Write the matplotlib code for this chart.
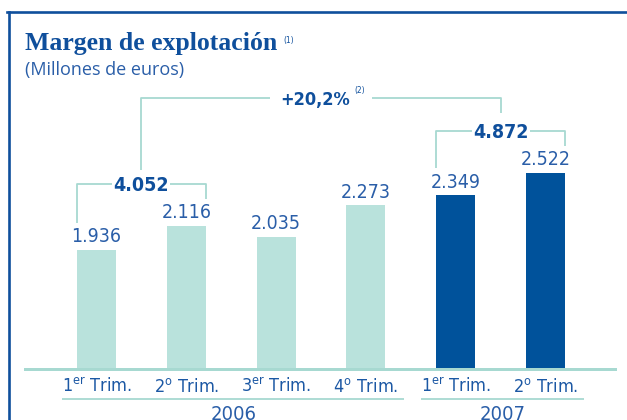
import matplotlib
matplotlib.use("Agg")
import matplotlib.pyplot as plt
from matplotlib.lines import Line2D

# --- data -------------------------------------------------------------------
years = ["2006", "2007"]
quarters = [("1", "er"), ("2", "o"), ("3", "er"), ("4", "o"), ("1", "er"), ("2", "o")]
quarter_year = [0, 0, 0, 0, 1, 1]
values = [1936, 2116, 2035, 2273, 2349, 2522]   # millones de euros
half_totals = [4052, 4872]                      # 1er semestre 2006 / 2007
growth_label = "+20,2%"

# --- style ------------------------------------------------------------------
BLUE = "#0f4f9c"
TEXT_BLUE = "#2a5ea8"
LABEL_BLUE = "#1c58a4"
LIGHT = "#b9e2dc"
DARK = "#00529b"
TEAL = "#a7d9d1"
bar_colors = [LIGHT, DARK]
COND = dict(family="DejaVu Sans", fontstretch="condensed")

W, H = 627, 420
AX_L, AX_R, AX_BOT = 24, 617, 371
C0, STEP = 96.5, 89.8     # first bar centre and bar spacing (px)
BAR_W = 39 / STEP
BASE = 1033               # value that sits on the baseline
Y_PX = 1 / 0.1312         # value units per pixel


def fmt(v):
    return f"{v:,}".replace(",", ".")


fig = plt.figure(figsize=(W / 100, H / 100), dpi=100)
ax = fig.add_axes([AX_L / W, (H - AX_BOT) / H, (AX_R - AX_L) / W, AX_BOT / H])
y_lo = BASE - 3 * Y_PX
ax.set_xlim((AX_L - C0) / STEP, (AX_R - C0) / STEP)
ax.set_ylim(y_lo, y_lo + AX_BOT * Y_PX)
ax.axis("off")


def py(px):
    """pixel row (from top) -> data y"""
    return y_lo + (AX_BOT - px) * Y_PX


def dx(px):
    return px / STEP


def dy(px):
    return px * Y_PX


x = list(range(len(values)))
ax.bar(x, values, width=BAR_W, color=[bar_colors[y] for y in quarter_year], zorder=2)
ax.axhspan(y_lo, BASE, color=TEAL, lw=0, zorder=3)

for i, v in zip(x, values):
    ax.text(i, v + dy(7.5), fmt(v), ha="center", va="baseline",
            fontsize=14, color=TEXT_BLUE, **COND)

line_kw = dict(color=TEAL, lw=1.3, clip_on=False, zorder=1, solid_capstyle="butt")


def bracket(i, j, total):
    w2 = BAR_W / 2
    top = max(values[i], values[j]) + dy(42)
    mid = (i + j) / 2
    ax.plot([mid - dx(29), i - w2, i - w2], [top, top, values[i] + dy(27)], **line_kw)
    ax.plot([mid + dx(29), j + w2, j + w2], [top, top, values[j] + dy(27)], **line_kw)
    ax.text(mid, top - dy(7), fmt(total), ha="center", va="baseline",
            fontsize=14, fontweight="bold", color=BLUE, **COND)
    return mid, top


(m1, t1), (m2, t2) = bracket(0, 1, half_totals[0]), bracket(4, 5, half_totals[1])

# bracket comparing both halves
top = t2 + dy(33)
mid = (m1 + m2) / 2
ax.plot([mid - dx(51), m1, m1], [top, top, t1 + dy(14)], **line_kw)
ax.plot([mid + dx(51), m2, m2], [top, top, t2 + dy(18)], **line_kw)
ax.text(mid + dx(29.5), top - dy(7), growth_label, ha="right", va="baseline",
        fontsize=13, fontweight="bold", color=BLUE, **COND)
ax.text(mid + dx(33.5), top + dy(5), "(2)", ha="left", va="baseline",
        fontsize=6, color=BLUE, **COND)

# quarter labels
for i, (n, s) in zip(x, quarters):
    ax.text(i, py(392), f"{n}$^{{\\mathregular{{{s}}}}}$ Trim.", ha="center", va="baseline",
            fontsize=13, color=LABEL_BLUE, clip_on=False, **COND)

# year labels with underline
for k, year in enumerate(years):
    idx = [i for i in x if quarter_year[i] == k]
    ax.plot([idx[0] - dx(35), idx[-1] + dx(38)], [py(398.5)] * 2, **line_kw)
    ax.text((idx[0] + idx[-1]) / 2 + dx(2), py(420.5), year, ha="center", va="baseline",
            fontsize=14.5, color=TEXT_BLUE, clip_on=False, **COND)

# frame
fig.add_artist(Line2D([7 / W, 1], [1 - 12 / H] * 2, color=BLUE, lw=1.9, transform=fig.transFigure))
fig.add_artist(Line2D([8.5 / W] * 2, [0, 1 - 12 / H], color=BLUE, lw=1.9, transform=fig.transFigure))

# titles
fig.text(25 / W, 1 - 50 / H, "Margen de explotación", family="Liberation Serif",
         fontweight="bold", fontsize=18.5, color=BLUE, va="baseline")
fig.text(283 / W, 1 - 43 / H, "(1)", fontsize=6, color=BLUE, va="baseline", **COND)
fig.text(25 / W, 1 - 75 / H, "(Millones de euros)", family="Open Sans",
         fontsize=13, color=TEXT_BLUE, va="baseline")

fig.savefig("out.png", dpi=100)
